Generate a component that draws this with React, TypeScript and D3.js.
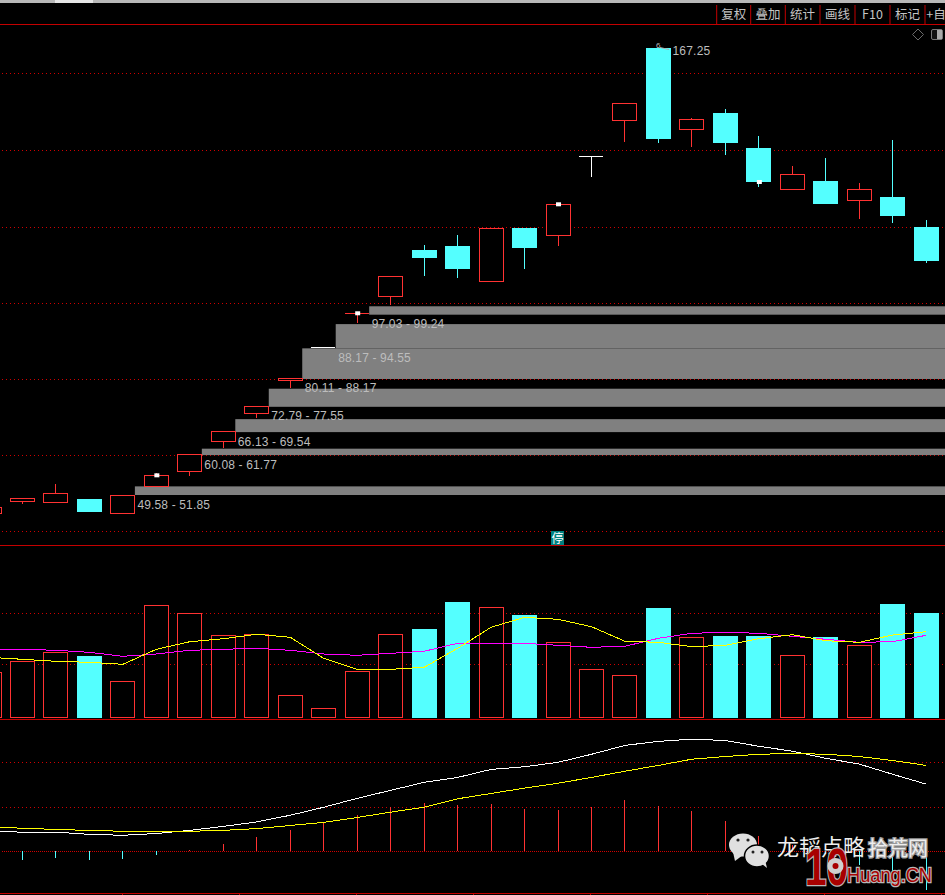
import React from "react";
import * as d3 from "d3";

const opens = [44.84,47.82,47.55,48.53,44.66,51.76,55.71,63.61,70.97,79.66,88.45,97.39,101.76,114.05,115.11,105.71,119.84,117.82,138.71,148.08,167.21,145.71,150.11,140.89,129.92,132.21,127.03,128,120.11];
const closes = [46.16,48.53,50.03,45.11,49.5,54.76,60.29,66.34,72.92,80.29,88.45,97.4,107.13,111.95,109.05,119.76,114.58,126.08,138.71,152.66,143.26,148.45,142.21,131.95,133.97,126.16,130.03,123,111.16];
const highs = [46.16,48.79,52.47,48.53,49.5,55.37,60.29,66.34,72.92,80.29,88.45,97.4,107.13,115.37,118,119.76,119.84,126.08,138.71,152.66,167.21,148.79,151.16,144.05,136.16,138.26,131.68,143,121.95];
const lows = [44.84,47.29,47.55,45.11,44.66,51.76,54.66,62.03,69.84,77.82,88.45,94.84,99.58,107.21,106.68,105.71,109.05,115.11,133.34,142.47,142.21,141.16,139.05,130.63,129.92,126.16,122.21,121.16,110.63];
const closeMarkers = [5, 11, 17, 23];

const bandStarts = [4, 6, 7, 8, 9, 10, 11];
const bandLows = [49.58, 60.08, 66.13, 72.79, 80.11, 88.17, 97.03];
const bandHighs = [51.85, 61.77, 69.54, 77.55, 88.17, 94.55, 99.24];
const priceGrid = [40.1, 60.1, 80.1, 100.1, 120.2, 140.4, 160.6];

const volumes = [44.7,55.7,64.7,61,35.7,111.7,103.7,81.7,82.7,21.7,8.7,45.7,82.7,88,115,109.7,102,74.7,47.7,41.7,109,79.7,81,81,61.7,80,71.7,113,104];
const volMaFast = [59.7,57.7,55.7,54.7,52.7,67.7,75.3,78.3,82.7,79.7,58.7,47.7,47.7,49.7,68.7,89.7,99.7,97.7,90.3,75.7,74.7,70.3,71.7,78.3,82.3,76.3,74.7,82,85.3];
const volMaSlow = [67.7,67.7,66.7,64.7,60.7,63,66.7,67.7,68.7,66.7,63,61.7,63.7,65.7,73.7,73.7,73.7,71.7,69.7,70.7,78.7,83.7,84.7,83.7,80.7,77.7,74.7,75.3,81.7];
const volGrid = [52.7, 104.3];

const dif = [4.5,4.3,4.3,3.8,3.6,4,4.7,5.6,6.6,8.1,9.9,11.9,13.7,15.5,16.6,18.4,19,20,21.8,23.8,24.7,25.2,24.9,23.6,22.5,20.9,19.6,17.3,15.1];
const dea = [5.4,5.2,4.9,4.7,4.5,4.5,4.5,4.7,5.1,5.8,6.5,7.6,8.8,9.9,11.8,13,14.2,15.3,16.6,18,19.3,20.7,21.3,21.8,22,21.8,21.3,20.4,19.3];
const macd = [0,-1.9,-1.4,-1.9,-1.7,-0.8,0.2,1.6,3.2,4.8,6.6,8.2,9.9,10.9,10.4,10.6,9.5,9.3,9.9,11.5,10.2,9.1,6.8,3.4,1.4,-0.6,-3,-6,-8.7];
const macdGrid = [10, 20];

const toolbarLabels = ["复权", "叠加", "统计", "画线", "F10", "标记", "+自"];
const peakLabel = "167.25";

const RED = "#ff3232";
const CYAN = "#54ffff";
const GRID = "#d00000";
const LINE = "#c40000";
const TEXT = "#bdbdbd";
const NUM_FONT = "'Liberation Sans', Arial, sans-serif";
const CJK_FONT = "'Noto Sans CJK SC', sans-serif";

const W = 945;
const H = 895;

export default function App() {
  const idx = d3.range(opens.length);
  const x = d3.scaleLinear().domain([0, 28]).range([-11, 926.2]);
  const px = (i: number) => Math.floor(x(i)) + 0.5;
  const y = d3.scaleLinear().domain([49.58, 167.21]).range([495, 48]);
  const yVol = d3.scaleLinear().domain([0, 115]).range([717, 602]);
  const yMacd = d3.scaleLinear().domain([0, 20]).range([851.3, 762.3]);

  const lineVol = (vals: number[]) =>
    d3.line<number>().x((_, i) => x(i)).y((d) => yVol(d))(vals) ?? "";
  const lineMacd = (vals: number[]) =>
    d3.line<number>().x((_, i) => x(i)).y((d) => yMacd(d))(vals) ?? "";

  const hGrid = (yy: number, key: string, dash = "1 3") => (
    <line key={key} x1={2} x2={W} y1={yy} y2={yy} stroke={GRID} strokeWidth={1} strokeDasharray={dash} shapeRendering="crispEdges" />
  );

  const cellEdges = [716.7, 750.7, 785.3, 820, 855, 890, 925];
  const cellCenters = [733.7, 768, 802.6, 837.5, 872.5, 907.5, 936];

  return (
    <svg width={W} height={H} viewBox={`0 0 ${W} ${H}`} style={{ position: "absolute", left: 0, top: 0, display: "block", background: "#000" }}>
      <rect width={W} height={H} fill="#000" />

      {/* top chrome */}
      <rect x={0} y={0} width={W} height={3} fill="#b8b8b8" />
      <rect x={55} y={0} width={38} height={3} fill="#e6e6e6" />
      <line x1={0} x2={W} y1={24.5} y2={24.5} stroke={LINE} strokeWidth={1.2} />
      {cellEdges.map((e, i) => (
        <line key={i} x1={e} x2={e} y1={5} y2={24} stroke={LINE} strokeWidth={1} />
      ))}
      {toolbarLabels.map((t, i) => (
        <text key={t} x={cellCenters[i]} y={19} textAnchor="middle" fill="#c4c4c4" fontFamily={CJK_FONT} fontSize={12.5}>{t}</text>
      ))}
      <path d="M918 29 L923.5 34.5 L918 40 L912.5 34.5 Z" fill="none" stroke="#6a6a6a" />
      <rect x={931.5} y={29.5} width={11} height={10} rx={1.5} fill="#111" stroke="#777" />
      <rect x={937} y={30} width={5} height={9} fill="#aaa" />

      {/* price panel */}
      {priceGrid.map((p) => hGrid(Math.round(y(p)) + 0.5, `p${p}`))}
      {bandStarts.map((s, i) => (
        <rect key={s} x={x(s) + 12} y={y(bandHighs[i])} width={W - x(s) - 12} height={y(bandLows[i]) - y(bandHighs[i])} fill="#808080" />
      ))}
      {idx.map((i) => {
        const up = closes[i] > opens[i];
        const flat = closes[i] === opens[i];
        const color = flat ? "#fff" : up ? RED : CYAN;
        const cx = px(i);
        const top = y(Math.max(opens[i], closes[i]));
        const bot = y(Math.min(opens[i], closes[i]));
        const thin = bot - top < 1;
        return (
          <g key={i} shapeRendering="crispEdges">
            <line x1={cx} x2={cx} y1={y(highs[i])} y2={y(lows[i])} stroke={color} strokeWidth={1} />
            {thin ? (
              <line x1={cx - 12.5} x2={cx + 11.5} y1={top} y2={top} stroke={color} strokeWidth={1} />
            ) : up ? (
              <rect x={cx - 12} y={top} width={24} height={bot - top} fill="#000" stroke={color} strokeWidth={1} />
            ) : (
              <rect x={cx - 12.5} y={top} width={25} height={bot - top} fill={color} />
            )}
          </g>
        );
      })}
      {closeMarkers.map((i) => (
        <rect key={i} x={x(i) - 2} y={y(closes[i]) - 2} width={5} height={4} fill="#fff" />
      ))}
      {bandStarts.map((s, i) => (
        <text key={s} x={x(s) + 14.5} y={y(bandLows[i]) + 13.5} fill={TEXT} fontFamily={NUM_FONT} fontSize={12} letterSpacing={0.15}>
          {`${bandLows[i].toFixed(2)} - ${bandHighs[i].toFixed(2)}`}
        </text>
      ))}
      <text x={656} y={48} fill={TEXT} fontFamily={NUM_FONT} fontSize={8}>6</text>
      <line x1={660} y1={47.5} x2={669} y2={49.5} stroke="#aaa" strokeWidth={1} />
      <text x={672.5} y={55} fill={TEXT} fontFamily={NUM_FONT} fontSize={12} letterSpacing={0.2}>{peakLabel}</text>

      {/* separator + limit badge */}
      <line x1={0} x2={W} y1={545.5} y2={545.5} stroke={LINE} strokeWidth={1} />
      <rect x={551} y={531} width={13} height={14} fill="#008080" />
      <text x={557.5} y={542.5} textAnchor="middle" fill="#fff" fontFamily={CJK_FONT} fontSize={12}>停</text>

      {/* volume panel */}
      {volGrid.map((v) => hGrid(Math.round(yVol(v)) + 0.5, `v${v}`))}
      {idx.map((i) => {
        const cx = px(i);
        const up = closes[i] >= opens[i];
        const top = yVol(volumes[i]);
        const base = yVol(0);
        return up ? (
          <rect key={i} x={cx - 12} y={top} width={24} height={base - top} fill="#000" stroke={RED} strokeWidth={1} shapeRendering="crispEdges" />
        ) : (
          <rect key={i} x={cx - 12.5} y={top} width={25} height={base - top + 0.5} fill={CYAN} shapeRendering="crispEdges" />
        );
      })}
      <line x1={0} x2={W} y1={719.5} y2={719.5} stroke={LINE} strokeWidth={1} />
      <path d={lineVol(volMaSlow)} fill="none" stroke="#ff00ff" strokeWidth={1} shapeRendering="crispEdges" />
      <path d={lineVol(volMaFast)} fill="none" stroke="#ffff00" strokeWidth={1} shapeRendering="crispEdges" />

      {/* MACD panel */}
      {macdGrid.map((v) => hGrid(Math.round(yMacd(v)) + 0.5, `m${v}`))}
      {hGrid(851.5, "zero", "1 1")}
      {idx.map((i) =>
        macd[i] === 0 ? null : (
          <line key={i} x1={px(i)} x2={px(i)} y1={yMacd(0)} y2={yMacd(macd[i])} stroke={macd[i] > 0 ? RED : CYAN} strokeWidth={1} shapeRendering="crispEdges" />
        )
      )}
      <path d={lineMacd(dif)} fill="none" stroke="#fff" strokeWidth={1} shapeRendering="crispEdges" />
      <path d={lineMacd(dea)} fill="none" stroke="#ffff00" strokeWidth={1} shapeRendering="crispEdges" />
      <line x1={0} x2={W} y1={893.5} y2={893.5} stroke={LINE} strokeWidth={1} />
      {d3.range(122, W, 117).map((tx) => (
        <line key={tx} x1={tx + 0.5} x2={tx + 0.5} y1={893} y2={895} stroke={LINE} strokeWidth={1} />
      ))}

      {/* watermark */}
      <g>
        <ellipse cx={743} cy={845} rx={14} ry={11.5} fill="#e0e0e0" />
        <path d="M733 852 L735 861 L743 855 Z" fill="#e0e0e0" />
        <circle cx={738} cy={840} r={1.6} fill="#222" />
        <circle cx={748} cy={840} r={1.6} fill="#222" />
        <ellipse cx={757} cy={856} rx={12.5} ry={11} fill="#e0e0e0" stroke="#000" strokeWidth={1.5} />
        <path d="M762 864 L767 868 L765 860 Z" fill="#e0e0e0" />
        <circle cx={753} cy={852} r={1.5} fill="#222" />
        <circle cx={762} cy={852} r={1.5} fill="#222" />
        <text x={777} y={855} fill="#eee" fontFamily={CJK_FONT} fontSize={22}>龙韬点略</text>
        <text x={868} y={856} fill="#eee" stroke="#9a9a9a" strokeWidth={2.5} paintOrder="stroke" fontFamily={CJK_FONT} fontSize={20}>拾荒网</text>
        <text x={805} y={885} fill="#a80000" stroke="#b8b8b8" strokeWidth={2.5} paintOrder="stroke" fontFamily={NUM_FONT} fontWeight={700} fontSize={52} textLength={43} lengthAdjust="spacingAndGlyphs">10</text>
        <circle cx={835.5} cy={866} r={8} fill="#d0d0d0" />
        <circle cx={835.5} cy={866} r={3} fill="#a80000" />
        <text x={847} y={882} fill="#a80000" stroke="#b8b8b8" strokeWidth={2.5} paintOrder="stroke" fontFamily={NUM_FONT} fontSize={20} textLength={85} lengthAdjust="spacingAndGlyphs">Huang.CN</text>
      </g>
    </svg>
  );
}
